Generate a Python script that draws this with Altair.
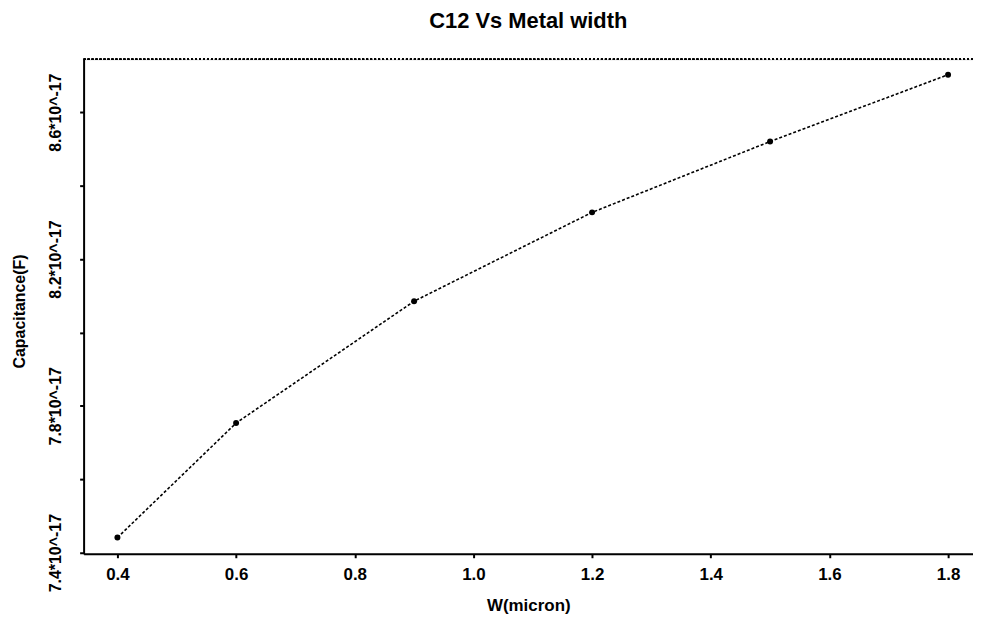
import altair as alt
import pandas as pd

width_um = [0.4, 0.6, 0.9, 1.2, 1.5, 1.8]
cap_F = [7.441e-17, 7.753e-17, 8.085e-17, 8.327e-17, 8.520e-17, 8.702e-17]
x_ticks = [0.4, 0.6, 0.8, 1.0, 1.2, 1.4, 1.6, 1.8]
y_ticks = [7.4e-17, 7.6e-17, 7.8e-17, 8.0e-17, 8.2e-17, 8.4e-17, 8.6e-17]
y_labeled = [7.4, 7.8, 8.2, 8.6]

df = pd.DataFrame({"w": width_um, "c": cap_F})

W, H = 894, 497
xs = alt.Scale(domain=[0.343, 1.842], nice=False, zero=False)
ys = alt.Scale(domain=[7.397e-17, 8.744e-17], nice=False, zero=False)

lab_expr = ("indexof([" + ",".join(f"'{v:.1f}'" for v in y_labeled) +
            "], format(datum.value*1e17,'.1f')) >= 0 ? format(datum.value*1e17,'.1f') + '*10^-17' : ''")

x_enc = alt.X("w:Q", scale=xs, axis=alt.Axis(
    title="W(micron)", values=x_ticks, format=".1f", grid=False,
    domainColor="black", domainWidth=2, tickColor="black", tickSize=4, tickWidth=2,
    labelFont="Liberation Sans", labelFontWeight="bold", labelFontSize=17, labelColor="black",
    labelPadding=9, labelFlush=False,
    titleFont="Liberation Sans", titleFontWeight="bold", titleFontSize=17, titleColor="black",
    titleY=57, titleBaseline="alphabetic"))
y_enc = alt.Y("c:Q", scale=ys, axis=alt.Axis(
    title="Capacitance(F)", values=y_ticks, labelExpr=lab_expr, grid=False,
    domainColor="black", domainWidth=2, tickColor="black", tickSize=4, tickWidth=2,
    labelAngle=270, labelAlign="center", labelBaseline="bottom",
    labelFont="Liberation Sans Narrow, Liberation Sans", labelFontWeight="bold", labelFontSize=16,
    labelColor="black", labelPadding=16, labelFlush=False,
    titleFont="Liberation Sans Narrow, Liberation Sans", titleFontWeight="bold", titleFontSize=16,
    titleColor="black", titleAngle=270, titleAlign="center", titleBaseline="bottom",
    titleX=-56, titleY=253))

line = alt.Chart(df).mark_line(color="black", strokeWidth=1.6, strokeDash=[3, 2]).encode(x=x_enc, y=y_enc)
pts = alt.Chart(df).mark_circle(color="black", opacity=1, size=36).encode(x="w:Q", y="c:Q")
top = alt.Chart(df).mark_rule(color="black", strokeWidth=1.5, strokeDash=[2, 2]).encode(
    x=alt.value(0), x2=alt.value(W), y=alt.value(0))

chart = (line + pts + top).properties(
    width=W, height=H,
    title=alt.TitleParams("C12 Vs Metal width", font="Liberation Sans", fontSize=22,
                          fontWeight="bold", color="black", anchor="middle", offset=26),
    autosize=alt.AutoSizeParams(type="none"),
    padding={"left": 76, "top": 50, "right": 0, "bottom": 60},
).configure_view(stroke=None).configure(background="white")

chart.save("out.html", embed_options={"renderer": "svg", "actions": False})
